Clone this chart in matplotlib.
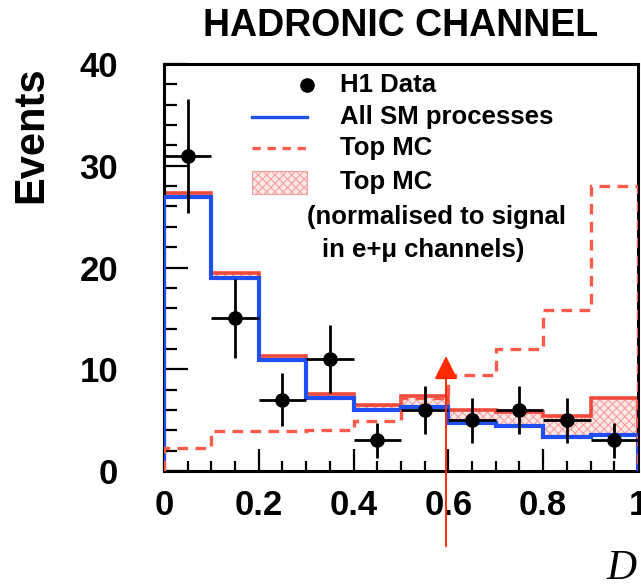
import numpy as np
import matplotlib.pyplot as plt
from matplotlib.patches import Rectangle
from matplotlib.lines import Line2D

plt.rcParams['font.family'] = ['Liberation Sans', 'DejaVu Sans']
plt.rcParams['font.weight'] = 'bold'
plt.rcParams['hatch.color'] = '#f4a0a0'
plt.rcParams['hatch.linewidth'] = 0.8

# bin edges of the D distribution
edges = [0.0, 0.1, 0.2, 0.3, 0.4, 0.5, 0.6, 0.7, 0.8, 0.9, 1.0]

# H1 data
data_x = [0.05, 0.15, 0.25, 0.35, 0.45, 0.55, 0.65, 0.75, 0.85, 0.95]
data_y = [31, 15, 7, 11, 3, 6, 5, 6, 5, 3]
data_err = [5.6, 3.9, 2.6, 3.3, 1.7, 2.4, 2.2, 2.4, 2.2, 1.7]

# all SM processes
sm = [26.9, 19.0, 10.9, 7.2, 6.0, 6.3, 4.7, 4.4, 3.3, 3.5]
# SM + top MC normalised to signal in e+mu channels
sm_top = [27.3, 19.45, 11.3, 7.6, 6.5, 7.4, 6.0, 5.8, 5.4, 7.2]
# top MC (arbitrary normalisation)
top_mc = [2.3, 3.9, 3.9, 4.0, 4.9, 7.2, 9.4, 12.0, 15.8, 28.0]

cut = 0.595

red = '#f24a3a'
blue = '#1f4ff0'

fig = plt.figure(figsize=(6.41, 5.84), dpi=100)
ax = fig.add_axes([0.2558, 0.1935, 0.7395, 0.6969])

# hatched band between SM and SM + top
ax.stairs(sm_top, edges, baseline=sm, fill=True, facecolor='#fde8e8',
          edgecolor='#f4a0a0', hatch='xxxx', linewidth=0, zorder=1)
ax.stairs(sm_top, edges, baseline=0, color=red, lw=2.6, zorder=2)
ax.stairs(sm, edges, baseline=0, color=blue, lw=3.0, zorder=3)
ax.stairs(top_mc, edges, baseline=0, color='#ff5a4a', lw=2.4,
          linestyle=(0, (3.2, 2.2)), zorder=4)

ax.errorbar(data_x, data_y, yerr=data_err, xerr=0.05, fmt='o', color='black',
            ms=9.5, elinewidth=2.0, capsize=0, zorder=5)

ax.annotate('', xy=(cut, 11.3), xytext=(cut, -7.4),
            arrowprops=dict(arrowstyle='-|>', color='#ff2a00', lw=1.4,
                            mutation_scale=36, shrinkA=0, shrinkB=0),
            annotation_clip=False, zorder=6)

ax.set_xlim(0, 1)
ax.set_ylim(0, 40)
ax.set_xticks([0, 0.2, 0.4, 0.6, 0.8, 1.0])
ax.set_xticklabels(['0', '0.2', '0.4', '0.6', '0.8', '1'])
ax.set_xticks(np.arange(0, 1.0001, 0.05), minor=True)
ax.set_yticks([0, 10, 20, 30, 40])
ax.set_yticks(np.arange(0, 40.01, 2), minor=True)
ax.tick_params(which='both', direction='in', top=False, right=False, width=1.6)
ax.tick_params(axis='y', which='major', length=17, pad=33, labelsize=25)
ax.tick_params(axis='y', which='minor', length=9)
ax.tick_params(axis='x', which='major', length=16, pad=13, labelsize=25)
ax.tick_params(axis='x', which='minor', length=7)
for s in ax.spines.values():
    s.set_linewidth(2.2)

# hand-made legend
lx0, lx1 = 0.186, 0.302
fs = 18.5
ax.add_line(Line2D([lx1], [37.9], marker='o', ms=9.5, color='black'))
ax.text(0.371, 37.9, 'H1 Data', fontsize=fs, va='center')
ax.add_line(Line2D([lx0, lx1], [34.8, 34.8], color=blue, lw=2.4))
ax.text(0.371, 34.8, 'All SM processes', fontsize=fs, va='center')
ax.add_line(Line2D([lx0, lx1], [31.7, 31.7], color='#ff5a4a', lw=2.4,
                   linestyle=(0, (2.5, 2.0))))
ax.text(0.371, 31.7, 'Top MC', fontsize=fs, va='center')
ax.add_patch(Rectangle((lx0, 27.2), lx1 - lx0, 2.3, facecolor='#fde8e8',
                       edgecolor='#f4a0a0', hatch='xxxx', lw=0.8))
ax.text(0.371, 28.4, 'Top MC', fontsize=fs, va='center')
ax.text(0.302, 25.0, '(normalised to signal', fontsize=fs, va='center')
ax.text(0.333, 21.7, 'in e+μ channels)', fontsize=fs, va='center')

fig.text(401 / 641, 1 - 26 / 584, 'HADRONIC CHANNEL', fontsize=27,
         ha='center', va='center')
fig.text(31 / 641, 1 - 135 / 584, 'Events', fontsize=30, rotation=90,
         ha='center', va='center')
fig.text(621 / 641, 1 - 569 / 584, 'D', fontsize=30, style='italic',
         fontweight='normal', family=['Liberation Serif', 'DejaVu Serif'],
         ha='center', va='center')

fig.savefig('out.png', dpi=100)
